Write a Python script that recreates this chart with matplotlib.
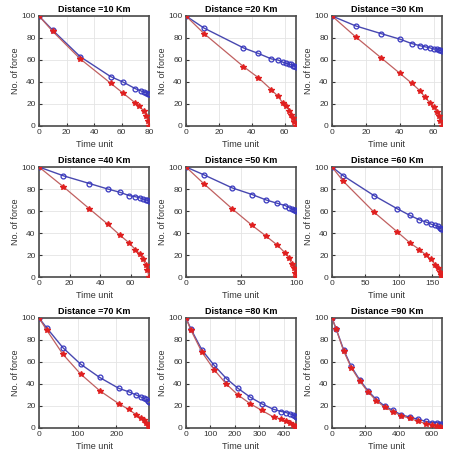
import numpy as np
import matplotlib
matplotlib.use("Agg")
import matplotlib.pyplot as plt

plt.rcParams['font.family'] = ['Liberation Sans', 'DejaVu Sans']

distances = [10, 20, 30, 40, 50, 60, 70, 80, 90]

# time unit values (x) and number of force (y) per panel
blue_x = [
    [0, 10, 30, 52, 61, 70, 74, 76, 78, 79, 80],
    [0, 11, 35, 44, 52, 56, 59, 61, 63, 64, 65, 66, 67],
    [0, 14, 29, 40, 47, 52, 55, 58, 60, 62, 63, 64, 65],
    [0, 16, 33, 45, 53, 59, 63, 66, 68, 70, 71, 72],
    [0, 16, 42, 60, 73, 83, 90, 94, 96, 98, 99, 100],
    [0, 17, 63, 98, 117, 131, 141, 149, 155, 159, 162, 164, 165],
    [0, 20, 62, 108, 157, 207, 232, 252, 265, 272, 278, 282, 285],
    [0, 20, 65, 115, 165, 213, 263, 310, 358, 390, 410, 425, 437, 445, 450],
    [0, 25, 70, 115, 165, 215, 265, 315, 365, 415, 465, 515, 565, 600, 630, 650, 660],
]
blue_y = [
    [100, 87, 63, 45, 40, 34, 32, 31, 30, 29, 29],
    [100, 89, 71, 66, 61, 60, 58, 57, 56, 56, 55, 55, 54],
    [100, 91, 84, 79, 75, 73, 72, 71, 70, 70, 69, 69, 68],
    [100, 92, 85, 80, 77, 74, 73, 72, 71, 70, 70, 69],
    [100, 93, 81, 75, 70, 67, 65, 63, 62, 61, 61, 60],
    [100, 92, 74, 62, 56, 52, 50, 48, 47, 46, 45, 44, 44],
    [100, 91, 73, 58, 46, 36, 33, 30, 28, 27, 26, 25, 24],
    [100, 90, 71, 57, 45, 36, 28, 22, 17, 15, 14, 13, 12, 11, 10],
    [100, 90, 71, 56, 44, 34, 26, 20, 16, 12, 10, 8, 6, 5, 5, 4, 4],
]
red_x = [
    [0, 10, 30, 52, 61, 70, 73, 76, 78, 79, 80],
    [0, 11, 35, 44, 52, 56, 59, 61, 63, 64, 65, 66, 67],
    [0, 14, 29, 40, 47, 52, 55, 58, 60, 62, 63, 64, 65],
    [0, 16, 33, 45, 53, 59, 63, 66, 68, 70, 71, 72],
    [0, 16, 42, 60, 73, 83, 90, 94, 96, 98, 99, 100],
    [0, 17, 63, 98, 117, 131, 141, 149, 155, 159, 162, 164, 165],
    [0, 20, 62, 108, 157, 207, 232, 252, 265, 272, 278, 282, 285],
    [0, 20, 65, 115, 165, 213, 263, 310, 358, 390, 410, 425, 437, 445, 450],
    [0, 25, 70, 115, 165, 215, 265, 315, 365, 415, 465, 515, 565, 600, 630, 650, 660],
]
red_y = [
    [100, 86, 61, 39, 30, 21, 18, 14, 9, 5, 0],
    [100, 84, 54, 44, 33, 27, 21, 18, 14, 10, 7, 4, 0],
    [100, 81, 62, 48, 39, 32, 26, 21, 17, 13, 9, 5, 0],
    [100, 82, 62, 48, 38, 31, 25, 21, 16, 11, 6, 0],
    [100, 85, 62, 47, 37, 29, 22, 17, 12, 8, 4, 0],
    [100, 87, 59, 41, 31, 25, 20, 16, 11, 8, 5, 2, 0],
    [100, 89, 67, 49, 34, 22, 17, 12, 9, 7, 5, 3, 0],
    [100, 89, 69, 53, 40, 30, 22, 16, 10, 8, 6, 5, 3, 2, 0],
    [100, 90, 70, 55, 43, 33, 25, 19, 15, 11, 9, 6, 4, 3, 2, 1, 0],
]
xmax = [80, 67, 65, 72, 100, 165, 285, 450, 660]
xticks = [
    [0, 20, 40, 60, 80],
    [0, 20, 40, 60],
    [0, 20, 40, 60],
    [0, 20, 40, 60],
    [0, 50, 100],
    [0, 50, 100, 150],
    [0, 100, 200],
    [0, 100, 200, 300, 400],
    [0, 200, 400, 600],
]

W, H = 449, 453
fig = plt.figure(figsize=(W / 100, H / 100), dpi=100)

lefts = [39, 186, 332]
tops = [16, 167, 318]
aw, ah = 110, 110

for i in range(9):
    r, c = divmod(i, 3)
    ax = fig.add_axes([lefts[c] / W, (H - tops[r] - ah) / H, aw / W, ah / H])
    ax.plot(blue_x[i], blue_y[i], '-o', color='#4848b0', lw=1.0, ms=3.5,
            mfc='none', mew=0.9, mec='#3838c0', zorder=3)
    ax.plot(red_x[i], red_y[i], '-*', color='#c06060', lw=0.9, ms=3.8,
            mfc='#e02020', mec='#e02020', zorder=4)
    ax.set_xlim(0, xmax[i])
    ax.set_ylim(0, 100)
    ax.set_xticks(xticks[i])
    ax.set_yticks([0, 20, 40, 60, 80, 100])
    ax.grid(True, color='#e4e4e4', lw=0.6)
    ax.set_axisbelow(True)
    ax.tick_params(direction='in', length=2, labelsize=6, colors='#333333', pad=2.5)
    for s in ax.spines.values():
        s.set_color('#4a4a4a')
        s.set_linewidth(1.2)
    ax.set_title('Distance =%d Km' % distances[i], fontsize=6.5,
                 fontweight='bold', pad=3)
    ax.set_xlabel('Time unit', fontsize=6.5, labelpad=2.5, color='#333333')
    ax.set_ylabel('No. of force', fontsize=6.5, labelpad=1, color='#333333')

fig.savefig('out.png', dpi=100)
